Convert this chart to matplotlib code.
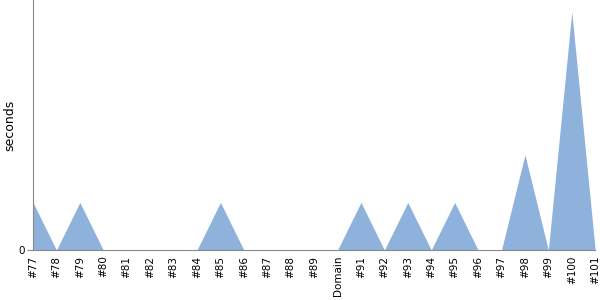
import matplotlib
matplotlib.use("Agg")
import numpy as np
import matplotlib.pyplot as plt

# categories and values
labels = ['#77', '#78', '#79', '#80', '#81', '#82', '#83', '#84', '#85', '#86',
          '#87', '#88', '#89', 'Domain', '#91', '#92', '#93', '#94', '#95', '#96',
          '#97', '#98', '#99', '#100', '#101']
seconds = [1, 0, 1, 0, 0, 0, 0, 0, 1, 0,
           0, 0, 0, 0, 1, 0, 1, 0, 1, 0,
           0, 2, 0, 5, 0]

x = np.arange(len(labels))

fig = plt.figure(figsize=(6, 3), dpi=100)
ax = fig.add_axes([0.055, 0.1667, 0.937, 0.8333])

ax.fill_between(x, seconds, 0, color='#8fb2dc', linewidth=0)

ax.set_xlim(0, len(labels) - 1)
ax.set_ylim(0, 5.25)
ax.set_xticks(x)
ax.set_xticklabels(labels, rotation=90, fontsize=7.5)
ax.set_yticks([0])
ax.set_yticklabels(['0'], fontsize=7.5)
ax.tick_params(axis='x', length=0, pad=4)
ax.tick_params(axis='y', length=4, color='#888888', pad=2)
ax.set_ylabel('seconds', fontsize=9)
ax.yaxis.set_label_coords(-0.030, 0.5)

ax.spines['top'].set_visible(False)
ax.spines['right'].set_visible(False)
ax.spines['left'].set_color('#888888')
ax.spines['bottom'].set_color('#888888')

fig.savefig('out.png', dpi=100)
